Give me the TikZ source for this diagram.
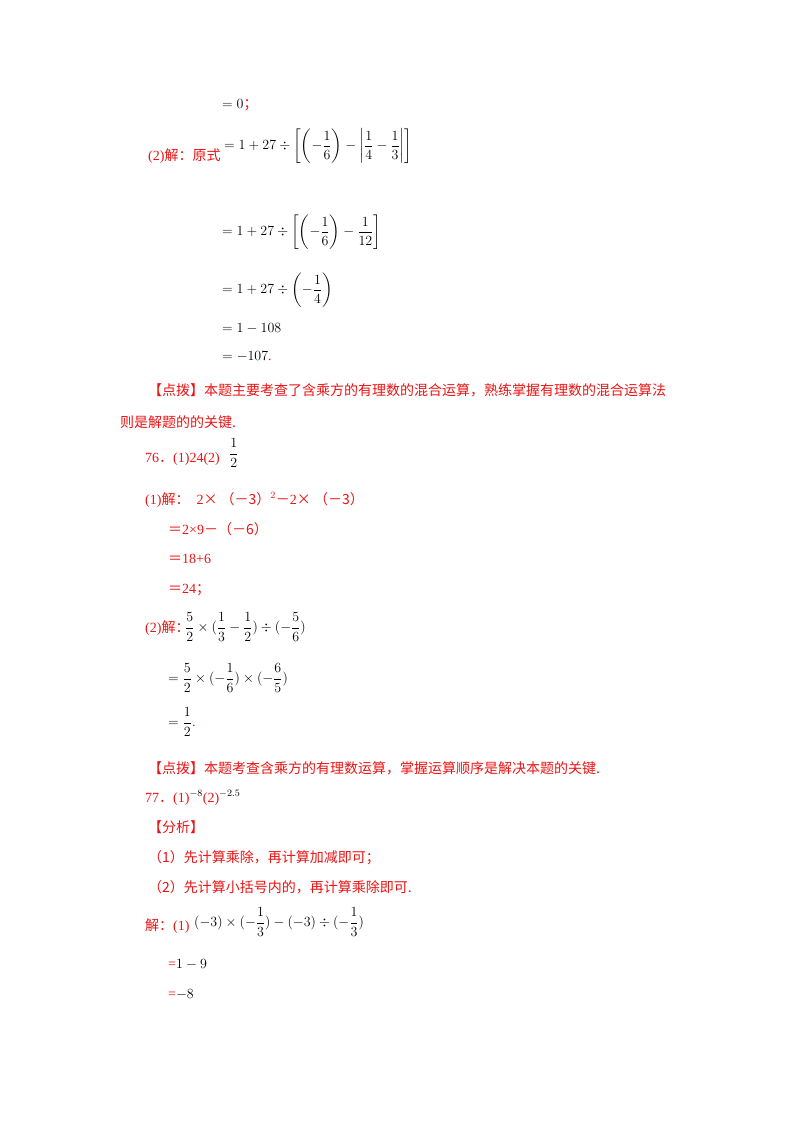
\RequirePackage{fix-cm}
\documentclass[tikz,border=0pt]{standalone}
\usepackage{fontspec}
\usepackage{amsmath}
\setmainfont{Liberation Serif}
\newfontfamily\cjk{Noto Sans CJK SC}
\definecolor{rd}{RGB}{235,20,20}
\tikzset{t/.style={anchor=base west,inner sep=0pt,font=\fontsize{14}{16}\selectfont},
 r/.style={t,text=rd},
 m/.style={anchor=west,inner sep=0pt,font=\fontsize{14}{16}\selectfont}}
\begin{document}
\begin{tikzpicture}[x=1pt,y=-1pt]
\useasboundingbox[fill=white] (0,0) rectangle (800,1132);
\node[t] (a1) at (222,108) {$=0$\textcolor{rd}{\cjk ；}};
\node[r] (a2) at (148,160) {(2)\cjk 解：原式};
\node[m] (a3) at (224,146) {$=1+27\div\left[\left(-\dfrac16\right)-\left|\dfrac14-\dfrac13\right|\right]$};
\node[m] (a4) at (222,232) {$=1+27\div\left[\left(-\dfrac16\right)-\dfrac1{12}\right]$};
\node[m] (a5) at (222,290) {$=1+27\div\left(-\dfrac14\right)$};
\node[t] (a6) at (222,332) {$=1-108$};
\node[t] (a7) at (222,360) {$=-107$\textcolor{rd}{.}};
\node[r] (b1) at (148,395) {\cjk 【点拨】本题主要考查了含乘方的有理数的混合运算，熟练掌握有理数的混合运算法};
\node[r] (b2) at (120,427) {\cjk 则是解题的的关键.};
\node[r] (c1) at (145,462) {76\cjk ．\rm(1)24(2)};
\node[m] (c1f) at (229,453) {$\dfrac12$};
\node[r] (c2) at (145,504) {(1)\cjk 解：\rm\ \ 2\cjk × （－3）\rm$^{2}$\cjk －\rm2\cjk × （－3）};
\node[r] (c3) at (168,534) {\cjk ＝\rm2×9\cjk －（－6）};
\node[r] (c4) at (168,563) {\cjk ＝\rm18+6};
\node[r] (c5) at (168,593) {\cjk ＝\rm24\cjk ；};
\node[r] (c6) at (145,632) {(2)\cjk 解：};
\node[m] (c7) at (185,627) {$\dfrac52\times(\dfrac13-\dfrac12)\div(-\dfrac56)$};
\node[m] (c8) at (168,678) {$=\dfrac52\times(-\dfrac16)\times(-\dfrac65)$};
\node[m] (c9) at (168,722) {$=\dfrac12$\textcolor{rd}{.}};
\node[r] (d1) at (148,773) {\cjk 【点拨】本题考查含乘方的有理数运算，掌握运算顺序是解决本题的关键.};
\node[r] (d2) at (145,802) {77\cjk ．\rm(1)\textcolor{black}{$^{-8}$}(2)\textcolor{black}{$^{-2.5}$}};
\node[r] (d3) at (148,832) {\cjk 【分析】};
\node[r] (d4) at (148,862) {\cjk （1）先计算乘除，再计算加减即可；};
\node[r] (d5) at (148,892) {\cjk （2）先计算小括号内的，再计算乘除即可.};
\node[r] (d6) at (145,930) {\cjk 解：\rm(1)};
\node[m] (d7) at (194,922) {$(-3)\times(-\dfrac13)-(-3)\div(-\dfrac13)$};
\node[t] (d8) at (168,968) {\textcolor{rd}{=}$1-9$};
\node[t] (d9) at (168,998) {\textcolor{rd}{=}$-8$};
\end{tikzpicture}
\end{document}
